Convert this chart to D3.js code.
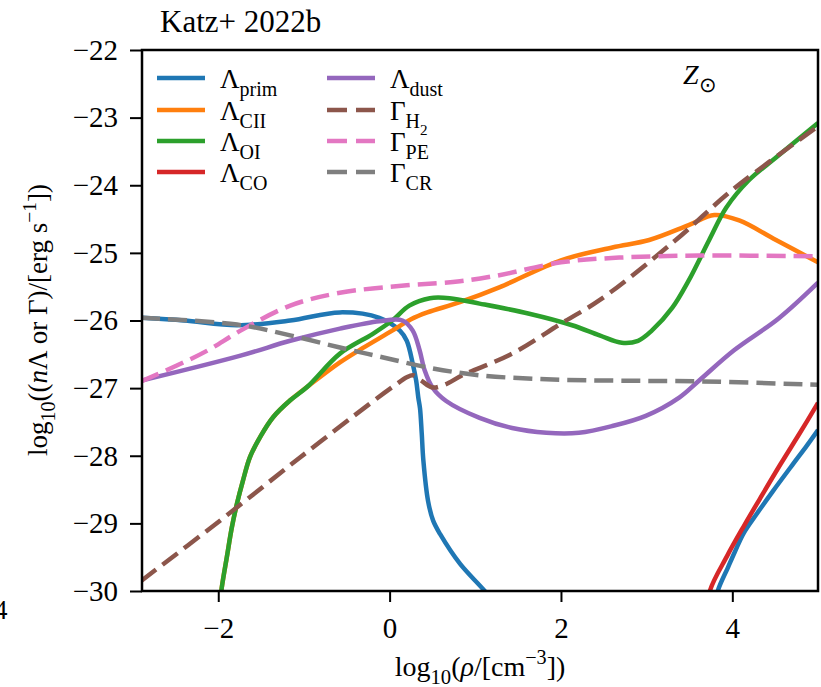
<!DOCTYPE html>
<html>
<head>
<meta charset="utf-8">
<script src="https://cdn.jsdelivr.net/npm/d3@7"></script>
<style>
  body { margin: 0; background: #fff; }
  svg { display: block; }
  text { font-family: "Liberation Serif", "Times New Roman", serif; fill: #000; }
</style>
</head>
<body>
<svg id="chart" width="821" height="687"></svg>
<script>
// Cooling (Λ) and heating (Γ) rates vs. density, solar metallicity
const xTicks = [-2, 0, 2, 4];
const yTicks = [-30, -29, -28, -27, -26, -25, -24, -23, -22];

const lambdaPrim = [
  [-2.9, -25.96], [-2.4, -26.0], [-1.78, -26.07], [-1.16, -26.0], [-0.58, -25.88],
  [-0.12, -25.96], [0.12, -26.15], [0.2, -26.3], [0.27, -26.64], [0.31, -26.89],
  [0.335, -27.14], [0.355, -27.3], [0.375, -27.67], [0.394, -28.07], [0.449, -28.67],
  [0.508, -28.96], [0.59, -29.16], [0.823, -29.6], [1.11, -30.0], [1.3, -30.3],
  [2.5, null],
  [3.77, -30.4], [3.83, -30.0], [3.95, -29.65], [4.03, -29.42], [4.13, -29.15],
  [4.29, -28.85], [4.47, -28.53], [4.71, -28.12], [4.87, -27.85], [5.0, -27.62]
];
const lambdaCII = [
  [-2.0, -30.4], [-1.96, -29.96], [-1.9, -29.5], [-1.84, -29.05], [-1.78, -28.7],
  [-1.71, -28.36], [-1.63, -28.02], [-1.51, -27.72], [-1.36, -27.43], [-1.16, -27.18],
  [-0.96, -26.98], [-0.58, -26.62], [-0.29, -26.39], [0.03, -26.15], [0.25, -25.98],
  [0.44, -25.88], [0.82, -25.73], [1.28, -25.51], [2.0, -25.11], [2.6, -24.92],
  [3.03, -24.81], [3.49, -24.59], [3.79, -24.44], [4.08, -24.52], [4.51, -24.81],
  [5.0, -25.14]
];
const lambdaOI = [
  [-2.0, -30.4], [-1.96, -29.96], [-1.9, -29.5], [-1.84, -29.05], [-1.78, -28.7],
  [-1.71, -28.36], [-1.63, -28.02], [-1.51, -27.72], [-1.36, -27.43], [-1.16, -27.18],
  [-0.96, -26.98], [-0.58, -26.49], [-0.2, -26.2], [0.03, -26.0], [0.23, -25.78],
  [0.47, -25.67], [0.7, -25.67], [1.05, -25.75], [1.63, -25.9], [2.13, -26.07],
  [2.45, -26.22], [2.71, -26.33], [2.9, -26.3], [3.06, -26.15], [3.3, -25.81],
  [3.49, -25.41], [3.73, -24.81], [3.93, -24.33], [4.19, -23.93], [4.51, -23.59],
  [5.0, -23.08]
];
const lambdaCO = [
  [3.69, -30.4], [3.74, -29.99], [3.94, -29.48], [4.13, -29.05], [4.32, -28.64],
  [4.56, -28.13], [4.79, -27.66], [5.0, -27.22]
];
const lambdaDust = [
  [-2.9, -26.89], [-1.74, -26.52], [-1.16, -26.3], [-0.58, -26.12], [-0.12, -26.01],
  [0.15, -26.0], [0.27, -26.15], [0.35, -26.44], [0.41, -26.74], [0.5, -26.99],
  [0.66, -27.19], [1.05, -27.44], [1.43, -27.59], [1.83, -27.66], [2.21, -27.66],
  [2.6, -27.56], [2.99, -27.41], [3.38, -27.14], [3.61, -26.89], [4.02, -26.44],
  [4.54, -25.97], [5.0, -25.44]
];
const gammaH2 = [
  [-2.9, -29.85], [-1.98, -28.96], [-1.05, -28.03], [-0.23, -27.23], [0.06, -26.96],
  [0.2, -26.84], [0.27, -26.81], [0.37, -26.89], [0.5, -26.99], [0.64, -26.95],
  [0.85, -26.81], [1.43, -26.49], [2.02, -26.03], [2.45, -25.7], [3.34, -24.81],
  [4.0, -24.07], [5.0, -23.13]
];
const gammaPE = [
  [-2.9, -26.9], [-2.49, -26.67], [-2.12, -26.44], [-1.74, -26.15], [-1.16, -25.78],
  [-0.58, -25.59], [0.2, -25.48], [0.82, -25.42], [1.28, -25.33], [2.0, -25.14],
  [2.68, -25.07], [3.61, -25.04], [5.0, -25.05]
];
const gammaCR = [
  [-2.9, -25.96], [-1.78, -26.06], [-1.16, -26.22], [-0.58, -26.4], [-0.06, -26.55],
  [0.47, -26.7], [1.05, -26.81], [1.83, -26.87], [2.68, -26.89], [3.61, -26.9],
  [5.0, -26.95]
];

const series = [
  { data: lambdaPrim, color: "#1f77b4", dashed: false, sym: "Λ", sub: "prim" },
  { data: lambdaCII,  color: "#ff7f0e", dashed: false, sym: "Λ", sub: "CII" },
  { data: lambdaOI,   color: "#2ca02c", dashed: false, sym: "Λ", sub: "OI" },
  { data: lambdaCO,   color: "#d62728", dashed: false, sym: "Λ", sub: "CO" },
  { data: lambdaDust, color: "#9467bd", dashed: false, sym: "Λ", sub: "dust" },
  { data: gammaH2,    color: "#8c564b", dashed: true,  sym: "Γ", sub: "H", subsub: "2" },
  { data: gammaPE,    color: "#e377c2", dashed: true,  sym: "Γ", sub: "PE" },
  { data: gammaCR,    color: "#7f7f7f", dashed: true,  sym: "Γ", sub: "CR" }
];

const W = 821, H = 687;
const plot = { left: 142, right: 818, top: 50, bottom: 591 };
const LW = 4.5, DASH = "19,8";
const SERIF = '"Liberation Serif", "Times New Roman", serif';

const svg = d3.select("#chart");
const x = d3.scaleLinear().domain([-2.89, 5]).range([plot.left, plot.right]);
const y = d3.scaleLinear().domain([-30, -22]).range([plot.bottom, plot.top]);

const fmt = v => String(v).replace("-", "\u2212");

// writes text with sub/superscripts as tspans
function rich(sel, parts, base) {
  let cur = 0;
  parts.forEach(p => {
    let off = 0, size = base;
    if (p.s === "sub") { off = 0.3 * base; size = 0.74 * base; }
    else if (p.s === "sup") { off = -0.42 * base; size = 0.72 * base; }
    else if (p.s === "subsub") { off = 0.55 * base; size = 0.56 * base; }
    sel.append("tspan")
      .attr("dy", off - cur)
      .style("font-size", size + "px")
      .style("font-style", p.i ? "italic" : null)
      .text(p.t);
    cur = off;
  });
}

svg.append("defs").append("clipPath").attr("id", "plotclip")
  .append("rect")
  .attr("x", plot.left).attr("y", plot.top)
  .attr("width", plot.right - plot.left).attr("height", plot.bottom - plot.top);

const line = d3.line()
  .defined(d => d[1] !== null)
  .x(d => x(d[0])).y(d => y(d[1]))
  .curve(d3.curveCatmullRom.alpha(0.5));

const lines = svg.append("g").attr("clip-path", "url(#plotclip)");
series.forEach(s => {
  lines.append("path")
    .attr("d", line(s.data))
    .attr("fill", "none")
    .attr("stroke", s.color)
    .attr("stroke-width", LW)
    .attr("stroke-linejoin", "round")
    .attr("stroke-dasharray", s.dashed ? DASH : null);
});

// axes
const xAxis = d3.axisBottom(x).tickValues(xTicks).tickFormat(fmt).tickSize(11).tickPadding(8);
const yAxis = d3.axisLeft(y).tickValues(yTicks).tickFormat(fmt).tickSize(12).tickPadding(12);

const gx = svg.append("g").attr("transform", `translate(0,${plot.bottom})`).call(xAxis);
const gy = svg.append("g").attr("transform", `translate(${plot.left},0)`).call(yAxis);
[gx, gy].forEach(g => {
  g.attr("font-family", SERIF).attr("font-size", 29);
  g.select(".domain").remove();
  g.selectAll(".tick line").attr("stroke", "#000").attr("stroke-width", 2);
  g.selectAll(".tick text")
    .style("font-family", SERIF)
    .style("font-size", "29px").attr("fill", "#000");
});
gx.selectAll(".tick text").attr("dy", "0.95em");

svg.append("rect")
  .attr("x", plot.left).attr("y", plot.top)
  .attr("width", plot.right - plot.left).attr("height", plot.bottom - plot.top)
  .attr("fill", "none").attr("stroke", "#000").attr("stroke-width", 2.5);

// title
svg.append("text").attr("x", 160).attr("y", 32).style("font-size", "31px").text("Katz+ 2022b");

// tick label of the neighbouring panel, clipped by the page edge
svg.append("text").attr("x", -6).attr("y", 619).style("font-size", "27px").text("4");

// metallicity tag
const zt = svg.append("text").attr("x", 683).attr("y", 84);
rich(zt, [{ t: "Z", i: true }, { t: "\u2299", s: "sub" }], 28);

// axis labels
const xl = svg.append("text").attr("x", 480).attr("y", 676).attr("text-anchor", "middle");
rich(xl, [{ t: "log" }, { t: "10", s: "sub" }, { t: "(" }, { t: "ρ", i: true }, { t: "/[cm" }, { t: "\u22123", s: "sup" }, { t: "])" }], 28);

const yl = svg.append("text").attr("text-anchor", "middle")
  .attr("transform", "translate(47,320) rotate(-90)");
rich(yl, [{ t: "log" }, { t: "10", s: "sub" }, { t: "((" }, { t: "n", i: true }, { t: "Λ or Γ)/[erg s" }, { t: "\u22121", s: "sup" }, { t: "])" }], 27);

// legend
const legendRows = [78, 110, 141, 172];
const legendCols = [157, 327];
series.forEach((s, i) => {
  const col = Math.floor(i / 4), row = i % 4;
  const lx = legendCols[col], ly = legendRows[row];
  svg.append("line")
    .attr("x1", lx).attr("x2", lx + 48).attr("y1", ly).attr("y2", ly)
    .attr("stroke", s.color).attr("stroke-width", LW)
    .attr("stroke-dasharray", s.dashed ? "20,9" : null);
  const t = svg.append("text").attr("x", lx + 63).attr("y", ly + 10);
  const parts = [{ t: s.sym }, { t: s.sub, s: "sub" }];
  if (s.subsub) parts.push({ t: s.subsub, s: "subsub" });
  rich(t, parts, 27);
});
</script>
</body>
</html>
